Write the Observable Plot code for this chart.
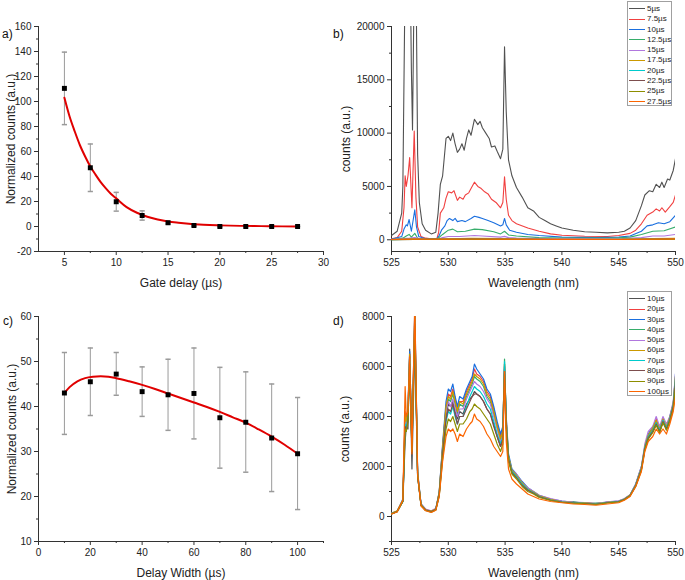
<!DOCTYPE html>
<html><head><meta charset="utf-8">
<script src="https://cdn.jsdelivr.net/npm/d3@7"></script>
<script src="https://cdn.jsdelivr.net/npm/@observablehq/plot@0.6"></script>
<style>
body{margin:0;background:#fff;font-family:"Liberation Sans",Arial,sans-serif;}
#root{position:relative;width:685px;height:580px;overflow:hidden;}
.lab{position:absolute;font-size:12px;color:#111;line-height:12px;}
.legend{position:absolute;border:1px solid #a0a0a0;background:#fff;font-size:8px;color:#222;box-sizing:border-box;padding-top:2px;}
.legend .row{height:10.3px;line-height:10.3px;white-space:nowrap;}
.legend .ln{display:inline-block;width:16px;height:0;vertical-align:middle;margin:0 2px 0 1px;}
</style></head>
<body><div id="root"></div>
<script>
// ---------- Panel a: gate delay ----------
const gateDelay = [5, 7.5, 10, 12.5, 15, 17.5, 20, 22.5, 25, 27.5];
const gateCounts = [110.5, 47, 19.8, 8.8, 3, 0.8, 0, 0, 0, 0];
const gateErr = [29, 19, 7.5, 3.7, 1, 0.5, 0.3, 0.2, 0.2, 0.2];
const gateFitX = [5, 5.5, 6, 6.5, 7, 7.5, 8, 8.5, 9, 9.5, 10, 11, 12, 13, 14, 15, 16, 17, 18, 19, 20, 22, 24, 26, 27.5];
const gateFitY = [103, 88, 76, 65, 56, 48, 41.5, 35.5, 30.5, 26, 22.5, 15.5, 11, 7.8, 5.6, 4.0, 3.0, 2.2, 1.6, 1.2, 0.9, 0.5, 0.3, 0.1, 0.05];

// ---------- Panel c: delay width ----------
const delayWidth = [10, 20, 30, 40, 50, 60, 70, 80, 90, 100];
const widthCounts = [43, 45.5, 47.2, 43.3, 42.6, 42.9, 37.5, 36.5, 33, 29.5];
const widthLo = [33.8, 38, 42.5, 37.8, 34.7, 32.8, 26.3, 25.4, 21.1, 17.1];
const widthHi = [52, 53, 52, 48.8, 50.5, 53, 48.7, 47.7, 45, 42];
const widthFitX = [10, 12, 15, 18, 21, 24, 27, 30, 35, 40, 45, 50, 55, 60, 65, 70, 75, 80, 85, 90, 95, 100];
const widthFitY = [43, 44.3, 45.6, 46.3, 46.6, 46.7, 46.6, 46.3, 45.6, 44.8, 43.9, 42.9, 41.9, 40.9, 39.9, 38.8, 37.6, 36.4, 34.9, 33.3, 31.5, 29.5];

// ---------- Panel b: spectra vs gate delay ----------
const legendB = ["5µs", "7.5µs", "10µs", "12.5µs", "15µs", "17.5µs", "20µs", "22.5µs", "25µs", "27.5µs"];
const colors = ["#515151", "#F14040", "#1A6FDF", "#37AD6B", "#B177DE", "#CC9900", "#00CBCC", "#7D4E4E", "#8E8E00", "#FB6501"];
const spec5 = [[525,400],[525.5,800],[525.9,2500],[526.0,5000],[526.15,20000],[526.3,35000],[526.6,30000],[526.75,16000],[526.85,10300],[526.95,20000],[527.05,35000],[527.2,20000],[527.3,8000],[527.45,3500],[527.7,1500],[528,900],[528.5,550],[528.9,700],[529.1,2500],[529.3,5200],[529.5,6000],[529.8,9500],[530,9700],[530.2,9300],[530.4,10000],[530.6,9000],[530.8,8200],[531,8500],[531.2,9000],[531.4,8400],[531.6,9500],[531.8,10300],[532,9800],[532.3,11300],[532.6,10800],[532.8,11100],[533,10500],[533.3,10000],[533.6,9500],[533.8,8700],[534.1,8800],[534.3,8300],[534.6,7600],[534.8,8500],[534.95,18100],[535.1,12000],[535.3,7500],[535.6,6000],[536,4900],[536.5,4000],[537,3000],[537.5,2700],[538,2100],[538.5,1800],[539,1500],[539.5,1300],[540,1100],[541,900],[542,750],[543,700],[544,650],[545,700],[545.5,800],[546,1100],[546.5,1800],[547,3200],[547.3,4200],[547.7,4600],[548,4500],[548.3,5200],[548.6,4900],[548.8,5400],[549,4900],[549.3,5700],[549.5,5600],[549.8,6500],[550,7600]];
const spec7_5 = [[525,100],[525.5,200],[525.9,800],[526.1,3000],[526.2,6000],[526.3,5000],[526.45,6000],[526.6,7700],[526.8,3000],[527.0,10200],[527.15,4000],[527.3,1200],[527.6,300],[528,150],[528.5,100],[529,120],[529.15,700],[529.3,2500],[529.6,3000],[529.8,3900],[530,4500],[530.3,4400],[530.5,4600],[530.8,3700],[531,4000],[531.3,3800],[531.5,4200],[531.8,4400],[532,4800],[532.3,5400],[532.6,5000],[532.9,4800],[533.2,4500],[533.5,4300],[533.8,3800],[534.2,3500],[534.6,3000],[534.8,3500],[534.95,5900],[535.1,3800],[535.3,2300],[535.6,1800],[536,1500],[537,1100],[538,800],[539,550],[540,420],[542,330],[544,300],[545,400],[546,600],[546.5,900],[547,1500],[547.5,2300],[548,2600],[548.3,2900],[548.6,2700],[548.8,3000],[549.1,2600],[549.5,3100],[549.8,3500],[550,4200]];
const spec10 = [[525,50],[525.9,300],[526.1,1000],[526.3,1400],[526.4,1300],[526.55,1900],[526.75,800],[527.05,2800],[527.2,1200],[527.4,300],[528,100],[529,80],[529.2,400],[529.4,900],[529.7,1300],[529.9,1800],[530.1,2000],[530.4,1800],[530.6,2000],[530.8,1700],[531.2,1800],[531.5,1700],[532,2000],[532.3,2200],[532.7,2100],[533,2000],[533.5,1800],[534,1600],[534.6,1300],[534.8,1400],[534.95,2000],[535.1,1400],[535.4,900],[536,700],[537,500],[538,400],[540,250],[543,200],[545,250],[546,350],[547,800],[547.5,1300],[548,1400],[548.5,1600],[549,1500],[549.5,1700],[550,2300]];
const spec12_5 = [[525,30],[526,150],[526.3,350],[526.55,500],[526.75,250],[527.05,600],[527.3,150],[528,50],[529,50],[529.5,500],[530,900],[530.4,1000],[530.8,750],[531.5,800],[532.3,1000],[533,950],[534,750],[534.6,550],[534.95,800],[535.3,450],[536,350],[538,200],[540,150],[545,180],[546,250],[547,500],[548,800],[549,850],[550,1200]];
const spec15 = [[525,20],[526.6,150],[527.05,200],[528,30],[529,30],[529.5,200],[530,300],[531,300],[532.3,400],[533,350],[534.6,250],[534.95,320],[535.3,200],[536,150],[540,80],[545,100],[547,200],[548,350],[549,350],[550,500]];
const spec17_5 = [[525,20],[527,80],[528,20],[530,100],[532,130],[535,110],[536,60],[540,40],[545,50],[548,110],[550,150]];
const spec20 = [[525,15],[527,50],[530,70],[532,90],[535,70],[540,30],[545,40],[548,70],[550,100]];
const spec22_5 = [[525,10],[527,40],[530,50],[532,60],[535,50],[540,20],[545,30],[548,50],[550,70]];
const spec25 = [[525,10],[527,30],[530,40],[532,50],[535,40],[540,20],[545,25],[548,40],[550,60]];
const spec27_5 = [[525,20],[527,60],[530,60],[532,70],[535,60],[540,40],[545,40],[548,60],[550,80]];
const seriesB = [spec5, spec7_5, spec10, spec12_5, spec15, spec17_5, spec20, spec22_5, spec25, spec27_5];

// ---------- Panel d: spectra vs delay width ----------
const legendD = ["10µs", "20µs", "30µs", "40µs", "50µs", "60µs", "70µs", "80µs", "90µs", "100µs"];
const wlD = [525,525.5,526,526.2,526.3,526.45,526.6,526.8,527.05,527.3,527.6,528,528.5,528.9,529.2,529.5,529.8,530,530.2,530.4,530.6,530.8,531,531.3,531.6,531.9,532.1,532.3,532.5,532.8,533.1,533.4,533.7,534,534.3,534.6,534.8,534.95,535.1,535.3,535.6,536,536.5,537,537.5,538,539,540,541,542,543,544,545,545.5,546,546.5,547,547.3,547.6,548,548.3,548.6,548.9,549.2,549.5,549.8,550];
const d10 = [100,200,600,3000,3600,3500,6700,1900,7000,1600,480,270,210,290,900,2600,4000,4500,4400,4600,4200,3900,4200,4100,4500,4700,4800,5000,4900,4800,4600,4300,4100,3700,3200,2800,3100,5900,3700,2300,1800,1600,1300,1050,950,800,680,600,560,540,500,560,600,680,840,1250,1900,2700,3100,3400,3700,3400,3800,3500,3900,4400,5300];
const d20 = [120,220,650,4200,3700,4300,6500,2900,8200,1700,450,260,220,280,950,2800,4400,4900,4800,5100,4700,4300,4600,4600,5000,5300,5500,5900,5700,5600,5400,5000,4800,4300,3700,3200,3500,6100,3900,2400,1800,1650,1350,1100,950,820,680,600,560,540,520,560,600,690,850,1250,1950,2750,3200,3500,3900,3400,3800,3600,3900,4400,5500];
const d30 = [150,200,700,4000,3600,4400,6600,2800,8400,1800,500,280,200,300,1000,2900,4600,5100,5000,5300,4800,4400,4800,4700,5100,5400,5600,6100,5900,5700,5500,5100,4900,4400,3800,3300,3600,6000,4000,2500,1900,1700,1400,1150,1000,850,700,620,570,560,500,580,620,700,860,1300,2000,2800,3300,3600,3800,3500,3900,3500,4000,4500,5700];
const d40 = [110,210,620,3900,3700,4200,6400,2700,8000,1700,470,250,190,290,950,2700,4300,4700,4600,4900,4500,4100,4500,4400,4800,5100,5300,5600,5500,5400,5200,4800,4600,4100,3600,3100,3400,6300,3800,2400,1800,1600,1300,1100,970,810,660,560,600,520,540,570,610,700,850,1280,1950,2750,3250,3500,3750,3450,3850,3550,3950,4500,5600];
const d50 = [120,200,640,3800,3600,4100,6300,2800,7900,1700,500,300,230,330,900,2600,4200,4600,4400,4700,4300,4000,4300,4300,4700,5000,5200,5400,5300,5200,5000,4700,4500,4000,3500,3000,3300,6000,3700,2300,1850,1700,1350,1150,1000,850,720,620,580,560,520,590,630,720,870,1300,2000,2900,3400,3600,4000,3600,4000,3700,4000,4600,5700];
const d60 = [130,230,660,4100,3800,4300,6500,2900,8100,1750,480,270,220,300,980,2750,4400,4800,4700,5000,4600,4200,4600,4500,4900,5200,5400,5700,5600,5500,5300,4900,4700,4200,3600,3100,3400,6100,3800,2400,1850,1650,1350,1100,980,830,690,590,560,550,510,570,610,700,860,1270,1950,2800,3250,3550,3850,3500,3900,3600,3950,4500,5600];
const d70 = [110,190,600,3700,3500,4000,6200,2700,7800,1650,460,250,180,270,850,2400,3800,4200,4100,4400,4000,3700,4000,4000,4400,4800,5000,5200,5100,5000,4800,4500,4300,3800,3300,2900,3200,6200,3700,2300,1800,1600,1300,1080,950,800,660,580,550,530,500,560,600,690,840,1250,1900,2750,3200,3450,3750,3450,3850,3550,3900,4450,5500];
const d80 = [100,200,610,3600,3400,3900,6100,2600,7700,1600,450,260,200,280,880,2500,3900,4300,4200,4500,4100,3700,4000,4000,4300,4600,4800,4900,4900,4800,4600,4300,4100,3600,3200,2800,3100,5800,3600,2300,1750,1550,1250,1050,930,790,650,570,540,520,490,550,590,680,830,1230,1880,2700,3150,3400,3700,3400,3800,3500,3850,4400,5400];
const d90 = [100,190,600,3500,3400,3800,6000,2600,7600,1600,440,240,170,260,820,2300,3500,3900,3800,4000,3700,3400,3700,3700,3900,4200,4300,4500,4400,4300,4100,3900,3700,3300,2900,2600,2900,5700,3500,2200,1700,1500,1200,1000,900,760,640,560,530,510,480,540,580,670,820,1200,1850,2650,3100,3350,3650,3350,3750,3450,3800,4300,5200];
const d100 = [100,180,650,5200,4000,4200,6400,2500,8600,1700,420,230,160,250,800,2200,3200,3500,3400,3500,3300,3000,3300,3200,3500,3700,3800,4100,3900,3800,3600,3300,3100,2800,2600,2400,2600,5800,3000,1900,1500,1300,1100,900,800,700,600,550,500,480,450,500,550,650,800,1200,1800,2600,3000,3200,3500,3300,3500,3300,3700,4200,4800];
const seriesD = [d10, d20, d30, d40, d50, d60, d70, d80, d90, d100];

// ---------- helpers ----------
const root = document.getElementById("root");
const FONT = '"Liberation Sans", Arial, sans-serif';
const style = {fontFamily: FONT, fontSize: "10px", color: "#222", background: "transparent", overflow: "visible"};
const fmt = d => String(d);
const capSymbol = {draw(ctx, size) { const w = Math.sqrt(size / Math.PI); ctx.moveTo(-w, 0); ctx.lineTo(w, 0); }};
function place(el, left, top) { el.style.position = "absolute"; el.style.left = left + "px"; el.style.top = top + "px"; root.appendChild(el); return el; }
function label(text, left, top) { const d = document.createElement("div"); d.className = "lab"; d.textContent = text; place(d, left, top); }
function axes(o) {
  return [
    Plot.ruleX([o.xDomain[0]], {stroke: "#333", strokeWidth: 1}),
    Plot.ruleY([o.yDomain[0]], {stroke: "#333", strokeWidth: 1}),
    Plot.axisX({ticks: o.xMajor, tickSize: 4, tickPadding: 3, tickFormat: fmt, label: null, stroke: "#333"}),
    Plot.axisX({ticks: o.xMinor, tickSize: 2, tickFormat: () => "", label: null, stroke: "#333"}),
    Plot.axisY({ticks: o.yMajor, tickSize: 4, tickPadding: 3, tickFormat: fmt, label: null, stroke: "#333"}),
    Plot.axisY({ticks: o.yMinor, tickSize: 2, tickFormat: () => "", label: null, stroke: "#333"}),
    Plot.text([o.xTitle], {text: d => d, frameAnchor: "bottom", textAnchor: "middle", lineAnchor: "middle", dy: 32, fontSize: 12, fill: "#222"}),
    Plot.text([o.yTitle], {text: d => d, frameAnchor: "left", textAnchor: "middle", lineAnchor: "middle", dx: o.yTitleDx, rotate: -90, fontSize: 12, fill: "#222"})
  ];
}
const range = (a, b, s) => d3.range(a, b + s / 2, s);

function scatterPanel(o) {
  const rows = o.x.map((x, i) => ({x, y: o.y[i], lo: o.lo[i], hi: o.hi[i]}));
  const fit = o.fitX.map((x, i) => ({x, y: o.fitY[i]}));
  return Plot.plot({
    width: 340, height: 290, marginLeft: 38, marginRight: 17, marginTop: 26, marginBottom: 39,
    x: {domain: o.xDomain}, y: {domain: o.yDomain}, style,
    marks: [
      ...axes(o),
      Plot.ruleX(rows, {x: "x", y1: "lo", y2: "hi", stroke: "#9a9a9a", strokeWidth: 1}),
      Plot.dot(rows, {x: "x", y: "lo", symbol: capSymbol, r: 2.6, stroke: "#9a9a9a", fill: "none"}),
      Plot.dot(rows, {x: "x", y: "hi", symbol: capSymbol, r: 2.6, stroke: "#9a9a9a", fill: "none"}),
      Plot.line(fit, {x: "x", y: "y", stroke: "#e00000", strokeWidth: 2, curve: "monotone-x"}),
      Plot.dot(rows, {x: "x", y: "y", symbol: "square", r: 2.8, fill: "#000", stroke: "none"})
    ]
  });
}

function spectrumPanel(o) {
  return Plot.plot({
    width: 345, height: 290, marginLeft: 51, marginRight: 10, marginTop: 26, marginBottom: 39,
    x: {domain: o.xDomain}, y: {domain: o.yDomain},
    color: {domain: o.names, range: colors}, style,
    marks: [
      ...axes(o),
      Plot.line(o.rows, {x: "wl", y: "c", z: "s", stroke: "s", strokeWidth: o.sw, clip: true})
    ]
  });
}

function legend(names, left, top) {
  const box = document.createElement("div");
  box.className = "legend";
  box.style.width = "45px"; box.style.height = "105px";
  names.forEach((n, i) => {
    const r = document.createElement("div"); r.className = "row";
    const l = document.createElement("span"); l.className = "ln"; l.style.borderTop = "1.6px solid " + colors[i];
    r.appendChild(l); r.appendChild(document.createTextNode(n)); box.appendChild(r);
  });
  place(box, left, top);
}

// ---------- build ----------
place(scatterPanel({
  x: gateDelay, y: gateCounts, lo: gateCounts.map((v, i) => v - gateErr[i]), hi: gateCounts.map((v, i) => v + gateErr[i]),
  fitX: gateFitX, fitY: gateFitY,
  xDomain: [2.5, 30], yDomain: [-20, 160],
  xMajor: range(5, 30, 5), xMinor: range(7.5, 27.5, 5),
  yMajor: range(-20, 160, 20), yMinor: range(-10, 150, 20),
  xTitle: "Gate delay (µs)", yTitle: "Normalized counts (a.u.)", yTitleDx: -27
}), 0, 0);

place(scatterPanel({
  x: delayWidth, y: widthCounts, lo: widthLo, hi: widthHi,
  fitX: widthFitX, fitY: widthFitY,
  xDomain: [0, 110], yDomain: [10, 60],
  xMajor: range(0, 100, 20), xMinor: range(10, 110, 20),
  yMajor: range(10, 60, 10), yMinor: range(15, 55, 10),
  xTitle: "Delay Width (µs)", yTitle: "Normalized counts (a.u.)", yTitleDx: -26
}), 0, 290);

const rowsB = [];
seriesB.forEach((arr, i) => arr.forEach(([wl, c]) => rowsB.push({s: legendB[i], wl, c})));
place(spectrumPanel({
  rows: rowsB, names: legendB, sw: 1.1,
  xDomain: [525, 550], yDomain: [-1100, 20000],
  xMajor: range(525, 550, 5), xMinor: range(527.5, 547.5, 5),
  yMajor: range(0, 20000, 5000), yMinor: range(2500, 17500, 5000),
  xTitle: "Wavelength (nm)", yTitle: "counts (a.u.)", yTitleDx: -45
}), 340, 0);

const rowsD = [];
seriesD.forEach((arr, i) => arr.forEach((c, j) => rowsD.push({s: legendD[i], wl: wlD[j], c})));
place(spectrumPanel({
  rows: rowsD, names: legendD, sw: 1.2,
  xDomain: [525, 550], yDomain: [-1000, 8000],
  xMajor: range(525, 550, 5), xMinor: range(527.5, 547.5, 5),
  yMajor: range(0, 8000, 2000), yMinor: range(-1000, 7000, 2000),
  xTitle: "Wavelength (nm)", yTitle: "counts (a.u.)", yTitleDx: -46
}), 340, 290);

legend(legendB, 627, 1);
legend(legendD, 627, 291);

label("a)", 2, 28);
label("b)", 333, 28);
label("c)", 3, 315);
label("d)", 333, 315);
</script>
</body></html>
